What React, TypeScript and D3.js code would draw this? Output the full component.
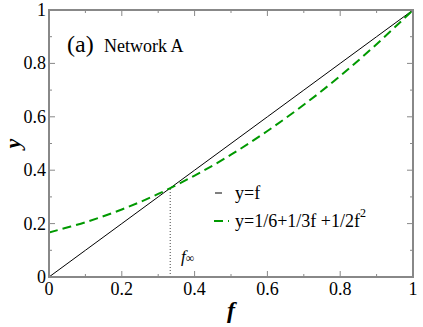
import React from "react";
import * as d3 from "d3";

// sample points
const fValues = [0, 0.1, 0.2, 0.3, 0.4, 0.5, 0.6, 0.7, 0.8, 0.9, 1.0];
const diagonalY = [0, 0.1, 0.2, 0.3, 0.4, 0.5, 0.6, 0.7, 0.8, 0.9, 1.0];
const curveY = [0.167, 0.205, 0.253, 0.311, 0.38, 0.458, 0.547, 0.645, 0.753, 0.872, 1.0];
const fInf = 0.333;

const majorTicks = [0, 0.2, 0.4, 0.6, 0.8, 1];
const minorTicks = [0.1, 0.3, 0.5, 0.7, 0.9];
const tickLabels = ["0", "0.2", "0.4", "0.6", "0.8", "1"];

const W = 423;
const H = 327;
const margin = { top: 10, right: 10, bottom: 50, left: 49 };
const serif = "Liberation Serif";

const App = () => {
  const x = d3.scaleLinear().domain([0, 1]).range([margin.left, W - margin.right]);
  const y = d3.scaleLinear().domain([0, 1]).range([H - margin.bottom, margin.top]);

  const diag = d3
    .line<number>()
    .x((_, i) => x(fValues[i]))
    .y((d) => y(d));
  const curve = d3
    .line<number>()
    .x((_, i) => x(fValues[i]))
    .y((d) => y(d))
    .curve(d3.curveCatmullRom);

  const x0 = x(0), x1 = x(1), y0 = y(0), y1 = y(1);
  const axisColor = "#888";
  const green = "#009900";

  return (
    <svg
      width={W}
      height={H}
      style={{ position: "absolute", left: 0, top: 0, fontFamily: serif }}
    >
      <rect width={W} height={H} fill="white" />
      <defs>
        <clipPath id="plot">
          <rect x={x0} y={y1} width={x1 - x0} height={y0 - y1} />
        </clipPath>
      </defs>

      {/* ticks, inward on all four sides */}
      <g stroke={axisColor} strokeWidth={1}>
        {majorTicks.map((t) => (
          <g key={"M" + t}>
            <line x1={x(t)} x2={x(t)} y1={y0} y2={y0 - 6} />
            <line x1={x(t)} x2={x(t)} y1={y1} y2={y1 + 6} />
            <line x1={x0} x2={x0 + 6} y1={y(t)} y2={y(t)} />
            <line x1={x1} x2={x1 - 6} y1={y(t)} y2={y(t)} />
          </g>
        ))}
        {minorTicks.map((t) => (
          <g key={"m" + t}>
            <line x1={x(t)} x2={x(t)} y1={y0} y2={y0 - 3} />
            <line x1={x(t)} x2={x(t)} y1={y1} y2={y1 + 3} />
            <line x1={x0} x2={x0 + 3} y1={y(t)} y2={y(t)} />
            <line x1={x1} x2={x1 - 3} y1={y(t)} y2={y(t)} />
          </g>
        ))}
      </g>

      <g clipPath="url(#plot)">
        <line
          x1={x(fInf)}
          x2={x(fInf)}
          y1={y(0)}
          y2={y(fInf)}
          stroke="#444"
          strokeWidth={1}
          strokeDasharray="1,2"
        />
        <path d={diag(diagonalY) ?? ""} fill="none" stroke="black" strokeWidth={1} />
        <path
          d={curve(curveY) ?? ""}
          fill="none"
          stroke={green}
          strokeWidth={2}
          strokeDasharray="9,5"
        />
      </g>

      <rect x={x0} y={y1} width={x1 - x0} height={y0 - y1} fill="none" stroke={axisColor} strokeWidth={2} />

      {/* tick labels */}
      <g fontSize={18} fill="black">
        {majorTicks.map((t, i) => (
          <text key={"xl" + t} x={x(t)} y={y0 + 18} textAnchor="middle">
            {tickLabels[i]}
          </text>
        ))}
        {majorTicks.map((t, i) => (
          <text key={"yl" + t} x={x0 - 3} y={y(t) + 6} textAnchor="end">
            {tickLabels[i]}
          </text>
        ))}
      </g>

      {/* axis titles */}
      <text x={(x0 + x1) / 2} y={H - 9} textAnchor="middle" fontSize={24} fontWeight="bold" fontStyle="italic">
        f
      </text>
      <text
        transform={`translate(20,${(y0 + y1) / 2}) rotate(-90)`}
        textAnchor="middle"
        fontSize={22}
        fontWeight="bold"
        fontStyle="italic"
      >
        y
      </text>

      {/* panel label */}
      <text x={67} y={52} fontSize={24}>
        (a)
      </text>
      <text x={104} y={52} fontSize={18}>
        Network A
      </text>

      {/* f_inf label */}
      <text x={181} y={262} fontSize={17} fontStyle="italic">
        f
        <tspan fontStyle="normal" fontSize={12} dy={0}>
          ∞
        </tspan>
      </text>

      {/* legend */}
      <line x1={215} x2={222} y1={193} y2={193} stroke="black" strokeWidth={1} />
      <text x={235} y={199} fontSize={18}>
        y=f
      </text>
      <line x1={214} x2={229} y1={221} y2={221} stroke={green} strokeWidth={2} strokeDasharray="9,5" />
      <text x={235} y={227} fontSize={18}>
        y=1/6+1/3f +1/2f
        <tspan fontSize={12} dy={-10}>
          2
        </tspan>
      </text>
    </svg>
  );
};

export default App;
